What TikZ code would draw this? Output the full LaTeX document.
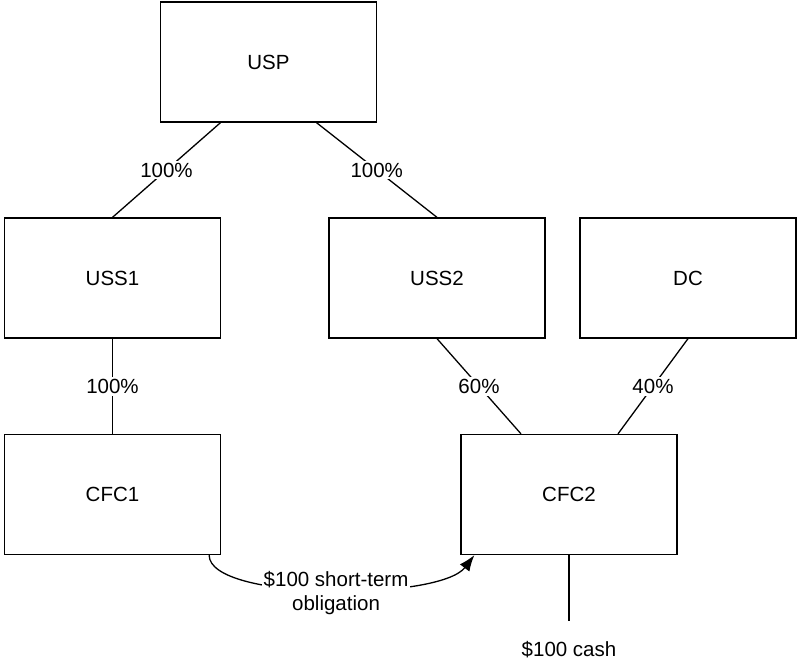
\documentclass[tikz,border=0pt]{standalone}
\usepackage{fontspec}
\setmainfont{Liberation Sans}
\usetikzlibrary{arrows.meta}
\begin{document}
\begin{tikzpicture}[x=1pt,y=-1pt,
  font=\fontsize{20.5}{24}\selectfont,
  entity/.style={draw=black, line width=1.3pt, minimum width=216pt, minimum height=120pt, inner sep=0pt},
  link/.style={draw=black, line width=1.3pt},
  pct/.style={fill=white, inner sep=2pt}]
  \useasboundingbox (0,0) rectangle (797,662);

  % ownership chart entities
  \node[entity] (usp)  at (268.5,62)    {USP};
  \node[entity] (uss1) at (112.5,278)   {USS1};
  \node[entity] (uss2) at (437,278)     {USS2};
  \node[entity] (dc)   at (688,278)     {DC};
  \node[entity] (cfc1) at (112.5,494.5) {CFC1};
  \node[entity] (cfc2) at (569,494.5)   {CFC2};

  % ownership links with percentages
  \draw[link] ([xshift=-48pt]usp.south) -- node[pct] {100\%} (uss1.north);
  \draw[link] ([xshift=48pt]usp.south) -- node[pct] {100\%} (uss2.north);
  \draw[link] (uss1.south) -- node[pct] {100\%} (cfc1.north);
  \draw[link] (uss2.south) -- node[pct] {60\%} ([xshift=-48pt]cfc2.north);
  \draw[link] (dc.south) -- node[pct] {40\%} ([xshift=49pt]cfc2.north);

  % intercompany obligation
  \draw[link, -{Latex[length=16pt,width=12pt]}]
    ([xshift=-12pt]cfc1.south east) .. controls +(0,46) and +(-35,46) ..
    node[pct, pos=0.52, align=center, yshift=-3pt] {\$100 short-term\\obligation}
    ([xshift=14pt]cfc2.south west);

  % cash held by CFC2
  \coordinate (cashend) at (569,621);
  \draw[link] (cfc2.south) -- (cashend);
  \node (cash) at (569,650) {\$100 cash};
\end{tikzpicture}
\end{document}
